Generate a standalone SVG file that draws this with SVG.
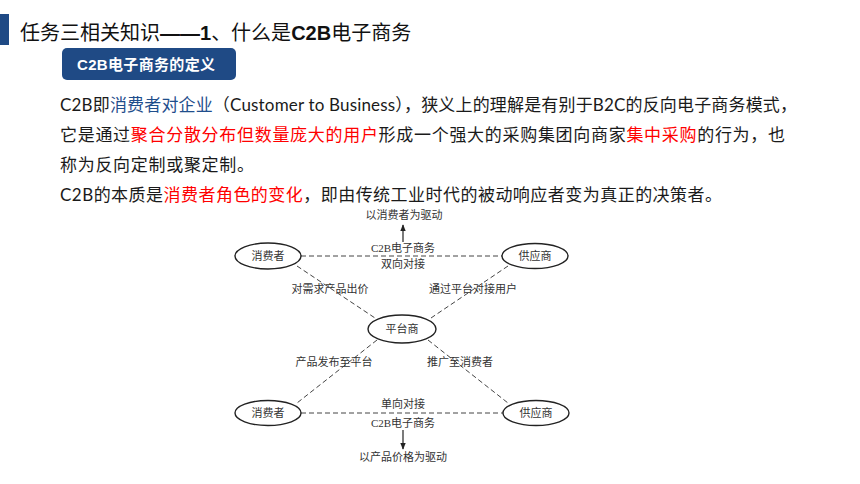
<svg xmlns="http://www.w3.org/2000/svg" width="860" height="484" viewBox="0 0 860 484">
<style>
.title{font-family:"Liberation Sans","Noto Sans CJK SC",sans-serif;font-size:20px;fill:#111}
.b{font-weight:bold}
.body{font-family:Lato,"Noto Sans CJK SC",sans-serif;font-size:17px;fill:#1a1a1a}
.red{fill:#ff0000}
.blue{fill:#1f4e8c}
.lbl{font-family:"Liberation Serif","Noto Sans CJK SC",serif;font-size:11px;fill:#333;text-anchor:middle}
.node ellipse{fill:#fff;stroke:#222;stroke-width:1.4}
.dash{stroke:#444;stroke-width:1;stroke-dasharray:5 3;fill:none}
.arr{stroke:#222;stroke-width:1.2;fill:none}
</style>
<defs>
<marker id="ah" viewBox="0 0 10 10" refX="9" refY="5" markerWidth="6" markerHeight="6" orient="auto">
<path d="M0,1 L10,5 L0,9 z" fill="#222"/>
</marker>
</defs>
<rect width="860" height="484" fill="#fff"/>
<g id="header">
<rect x="0" y="14" width="9" height="31" fill="#1f4a85"/>
<text class="title" x="20" y="40">任务三相关知识<tspan class="b">——1</tspan>、什么是<tspan class="b">C2B</tspan>电子商务</text>
<rect x="62" y="48" width="174" height="32" rx="5" fill="#1f4a85"/>
<text x="77" y="70" font-family="Liberation Sans,'Noto Sans CJK SC',sans-serif" font-size="15" font-weight="bold" fill="#fff" textLength="138" lengthAdjust="spacing">C2B电子商务的定义</text>
</g>
<g id="paragraph">
<text class="body" x="60" y="111" textLength="737" lengthAdjust="spacing">C2B即<tspan class="blue">消费者对企业</tspan>（Customer to Business），狭义上的理解是有别于B2C的反向电子商务模式，</text>
<text class="body" x="60" y="141" textLength="725" lengthAdjust="spacing">它是通过<tspan class="red">聚合分散分布但数量庞大的用户</tspan>形成一个强大的采购集团向商家<tspan class="red">集中采购</tspan>的行为，也</text>
<text class="body" x="60" y="171" textLength="194" lengthAdjust="spacing">称为反向定制或聚定制。</text>
<text class="body" x="60" y="201" textLength="662" lengthAdjust="spacing">C2B的本质是<tspan class="red">消费者角色的变化</tspan>，即由传统工业时代的被动响应者变为真正的决策者。</text>
</g>
<g id="connectors">
<line class="dash" x1="301" y1="256" x2="502" y2="256"/>
<line class="dash" x1="297" y1="266" x2="375" y2="318"/>
<line class="dash" x1="508" y1="266" x2="431" y2="318"/>
<line class="dash" x1="377" y1="340" x2="297" y2="403"/>
<line class="dash" x1="428" y1="340" x2="508" y2="403"/>
<line class="dash" x1="301" y1="413" x2="503" y2="413"/>
<line class="arr" x1="403" y1="242" x2="403" y2="225" marker-end="url(#ah)"/>
<line class="arr" x1="403" y1="430" x2="403" y2="449" marker-end="url(#ah)"/>
</g>
<g id="labels">
<text class="lbl" x="404" y="219">以消费者为驱动</text>
<text class="lbl" x="403" y="252">C2B电子商务</text>
<text class="lbl" x="403" y="268">双向对接</text>
<text class="lbl" x="330" y="293">对需求产品出价</text>
<text class="lbl" x="473" y="293">通过平台对接用户</text>
<text class="lbl" x="334" y="366">产品发布至平台</text>
<text class="lbl" x="460" y="366">推广至消费者</text>
<text class="lbl" x="403" y="408">单向对接</text>
<text class="lbl" x="403" y="427">C2B电子商务</text>
<text class="lbl" x="403" y="461">以产品价格为驱动</text>
</g>
<g id="consumer-top" class="node">
<ellipse cx="268" cy="256" rx="33" ry="13"/>
<text class="lbl" x="268" y="260">消费者</text>
</g>
<g id="supplier-top" class="node">
<ellipse cx="535" cy="256" rx="33" ry="12.5"/>
<text class="lbl" x="535" y="260">供应商</text>
</g>
<g id="platform" class="node">
<ellipse cx="402" cy="329" rx="34" ry="14"/>
<text class="lbl" x="402" y="333">平台商</text>
</g>
<g id="consumer-bottom" class="node">
<ellipse cx="268" cy="413" rx="33" ry="12.5"/>
<text class="lbl" x="268" y="417">消费者</text>
</g>
<g id="supplier-bottom" class="node">
<ellipse cx="536" cy="413" rx="33" ry="12.5"/>
<text class="lbl" x="536" y="417">供应商</text>
</g>
</svg>
